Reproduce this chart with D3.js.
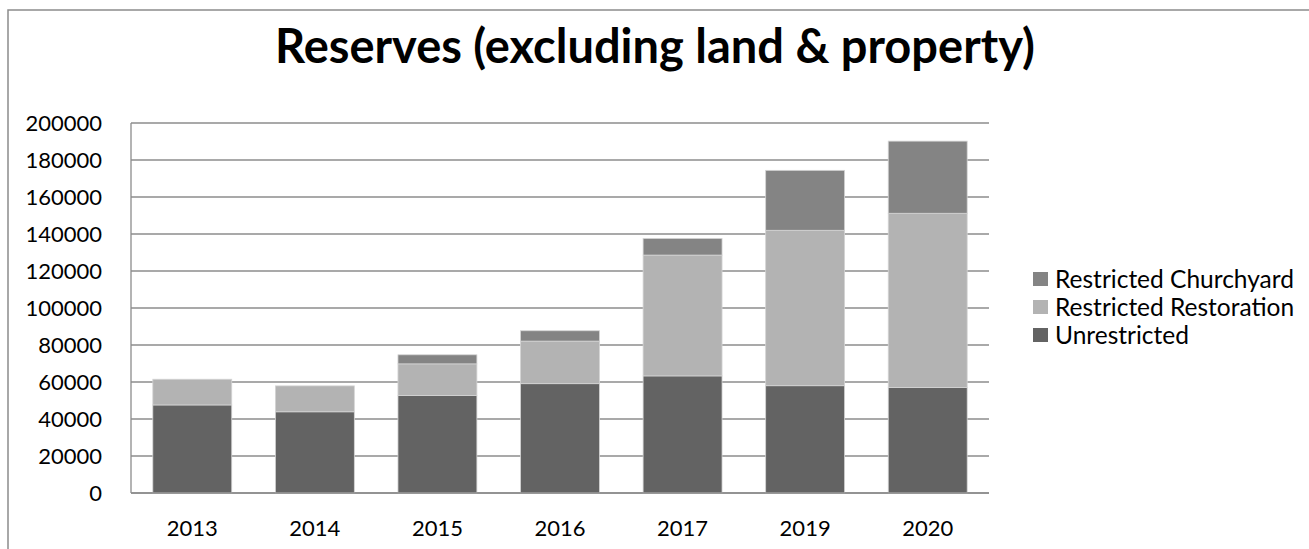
<!DOCTYPE html>
<html>
<head>
<meta charset="utf-8">
<script src="https://cdn.jsdelivr.net/npm/d3@7"></script>
<style>
  body { margin: 0; background: #fff; }
  svg text { font-family: Lato, "Open Sans", sans-serif; fill: #000; }
</style>
</head>
<body>
<div id="chart"></div>
<script>
const YEARS = ["2013", "2014", "2015", "2016", "2017", "2019", "2020"];
const UNRESTRICTED = [47600, 43900, 52700, 59100, 63300, 58000, 57000];
const RESTORATION  = [13900, 14000, 17100, 23000, 65300, 84000, 94200];
const CHURCHYARD   = [0, 0, 4900, 5600, 9000, 32400, 39000];
const Y_TICKS = [0, 20000, 40000, 60000, 80000, 100000, 120000, 140000, 160000, 180000, 200000];

const SERIES = [
  { key: "unrestricted", label: "Unrestricted",           values: UNRESTRICTED, color: "#636363" },
  { key: "restoration",  label: "Restricted Restoration", values: RESTORATION,  color: "#b3b3b3" },
  { key: "churchyard",   label: "Restricted Churchyard",  values: CHURCHYARD,   color: "#848484" },
];

const W = 1309, H = 549;
const plot = { left: 131, right: 989, top: 123, bottom: 493 };

const svg = d3.select("#chart").append("svg")
  .attr("width", W).attr("height", H);

// outer chart frame (runs off the right/bottom edge)
svg.append("rect")
  .attr("x", 8).attr("y", 10)
  .attr("width", W + 20).attr("height", H + 20)
  .attr("fill", "#fff").attr("stroke", "#8c8c8c").attr("stroke-width", 1.5);

svg.append("text")
  .attr("x", 655).attr("y", 63)
  .attr("text-anchor", "middle")
  .attr("font-size", "47px").attr("font-weight", "bold")
  .text("Reserves (excluding land & property)");

const rows = YEARS.map((y, i) => {
  const r = { year: y };
  SERIES.forEach((s) => { r[s.key] = s.values[i]; });
  return r;
});
const stacked = d3.stack().keys(SERIES.map((s) => s.key))(rows);

const x = d3.scaleBand().domain(YEARS)
  .range([plot.left, plot.right])
  .paddingInner(0.356).paddingOuter(0.178);
const y = d3.scaleLinear().domain([0, 200000]).range([plot.bottom, plot.top]);

// gridlines
svg.append("g").selectAll("line")
  .data(Y_TICKS)
  .join("line")
  .attr("x1", plot.left).attr("x2", plot.right)
  .attr("y1", (d) => y(d)).attr("y2", (d) => y(d))
  .attr("stroke", "#8c8c8c").attr("stroke-width", 1.3);

// y labels
svg.append("g").selectAll("text")
  .data(Y_TICKS)
  .join("text")
  .attr("x", 102)
  .attr("y", (d) => y(d))
  .attr("dy", "0.36em")
  .attr("text-anchor", "end")
  .attr("font-size", "22px")
  .text((d) => d);

// bars
svg.append("g").selectAll("g")
  .data(stacked)
  .join("g")
  .attr("fill", (d, i) => SERIES[i].color)
  .selectAll("rect")
  .data((d) => d.filter((p) => p[1] > p[0]))
  .join("rect")
  .attr("x", (d) => x(d.data.year))
  .attr("y", (d) => y(d[1]))
  .attr("width", x.bandwidth())
  .attr("height", (d) => y(d[0]) - y(d[1]))
  .attr("stroke", "#d4d4d4").attr("stroke-width", 0.8);

// axis lines
svg.append("line")
  .attr("x1", plot.left).attr("x2", plot.left)
  .attr("y1", plot.top).attr("y2", plot.bottom)
  .attr("stroke", "#8c8c8c").attr("stroke-width", 1.3);
svg.append("line")
  .attr("x1", plot.left).attr("x2", plot.right)
  .attr("y1", plot.bottom).attr("y2", plot.bottom)
  .attr("stroke", "#8c8c8c").attr("stroke-width", 1.3);

// x labels
svg.append("g").selectAll("text")
  .data(YEARS)
  .join("text")
  .attr("x", (d) => x(d) + x.bandwidth() / 2)
  .attr("y", 536)
  .attr("text-anchor", "middle")
  .attr("font-size", "22px")
  .text((d) => d);

// legend (reversed so churchyard sits on top)
const legend = svg.append("g").selectAll("g")
  .data(SERIES.slice().reverse())
  .join("g")
  .attr("transform", (d, i) => `translate(1033,${279 + i * 28})`);
legend.append("rect")
  .attr("x", 0).attr("y", -7)
  .attr("width", 15).attr("height", 14)
  .attr("fill", (d) => d.color);
legend.append("text")
  .attr("x", 22).attr("y", 0)
  .attr("dy", "0.36em")
  .attr("font-size", "24.5px")
  .text((d) => d.label);
</script>
</body>
</html>
